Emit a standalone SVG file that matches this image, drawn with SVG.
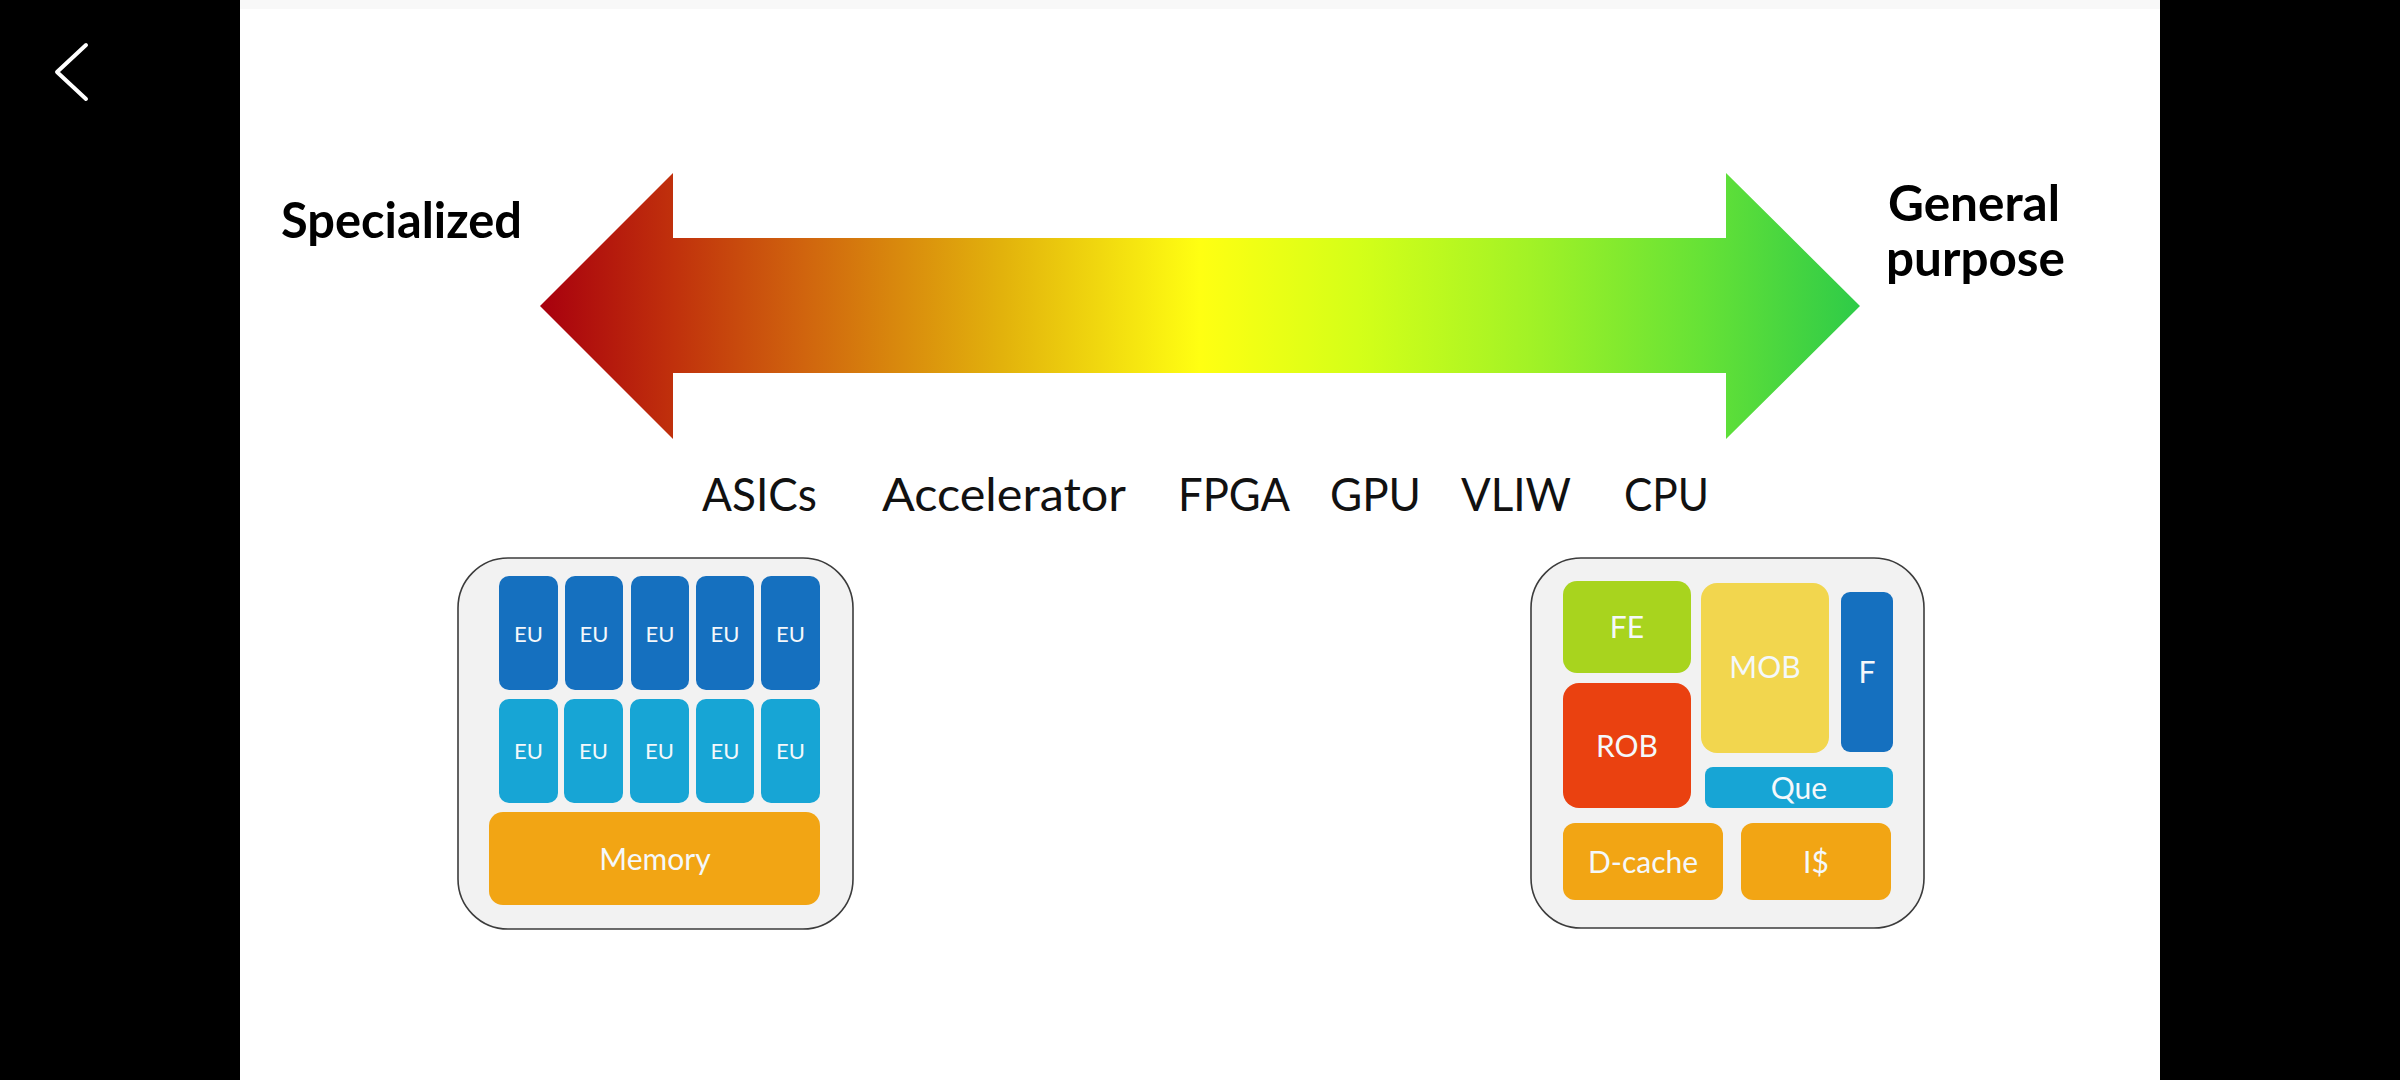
<svg xmlns="http://www.w3.org/2000/svg" width="2400" height="1080" viewBox="0 0 2400 1080">
<style>
.title{font-family:Lato,"Liberation Sans",sans-serif;font-weight:bold;font-size:50px;fill:#000}
.lbl{font-family:Lato,"Liberation Sans",sans-serif;font-size:46px;fill:#111}
.in{font-family:Lato,"Liberation Sans",sans-serif;fill:#f4f8fb;text-anchor:middle}
.eu{font-size:22px}
.big{font-size:30px}
.chip{fill:#f2f2f2;stroke:#3c3c3c;stroke-width:1.6}
.dblue{fill:#1570bf}
.lblue{fill:#17a5d5}
.orange{fill:#f2a514}
</style>
<defs>
<linearGradient id="spec" x1="540" y1="0" x2="1860" y2="0" gradientUnits="userSpaceOnUse">
<stop offset="0" stop-color="#a8000e"/>
<stop offset="0.1" stop-color="#c0300c"/>
<stop offset="0.2" stop-color="#d0640e"/>
<stop offset="0.35" stop-color="#e2b20c"/>
<stop offset="0.5" stop-color="#ffff12"/>
<stop offset="0.62" stop-color="#d4ff18"/>
<stop offset="0.75" stop-color="#a2f226"/>
<stop offset="0.88" stop-color="#66e236"/>
<stop offset="1" stop-color="#2ecb48"/>
</linearGradient>
</defs>
<rect x="0" y="0" width="2400" height="1080" fill="#ffffff"/>
<rect x="240" y="0" width="1920" height="9" fill="#f8f8f8"/>
<rect x="0" y="0" width="240" height="1080" fill="#000"/>
<rect x="2160" y="0" width="240" height="1080" fill="#000"/>
<polyline points="86,45 57,72 86,99" fill="none" stroke="#fff" stroke-width="4" stroke-linecap="round" stroke-linejoin="round"/>

<g id="connectors">
<polygon id="spectrum-arrow" fill="url(#spec)" points="540,306 673,173 673,238 1726,238 1726,173 1860,306 1726,439 1726,373 673,373 673,439"/>
</g>

<g id="specialized"><text class="title" x="281" y="238" textLength="241" lengthAdjust="spacingAndGlyphs">Specialized</text></g>
<g id="general-purpose">
<text class="title" x="1888" y="221" textLength="172" lengthAdjust="spacingAndGlyphs">General</text>
<text class="title" x="1886" y="276" textLength="179" lengthAdjust="spacingAndGlyphs">purpose</text>
</g>

<g id="asics"><text class="lbl" x="702" y="511" textLength="115" lengthAdjust="spacingAndGlyphs">ASICs</text></g>
<g id="accelerator"><text class="lbl" x="882" y="511" textLength="244" lengthAdjust="spacingAndGlyphs">Accelerator</text></g>
<g id="fpga"><text class="lbl" x="1178" y="511" textLength="112" lengthAdjust="spacingAndGlyphs">FPGA</text></g>
<g id="gpu"><text class="lbl" x="1330" y="511" textLength="91" lengthAdjust="spacingAndGlyphs">GPU</text></g>
<g id="vliw"><text class="lbl" x="1461" y="511" textLength="110" lengthAdjust="spacingAndGlyphs">VLIW</text></g>
<g id="cpu"><text class="lbl" x="1624" y="511" textLength="85" lengthAdjust="spacingAndGlyphs">CPU</text></g>

<g id="accelerator-chip">
<rect class="chip" x="458" y="558" width="395" height="371" rx="50"/>
<g id="eu-row1">
<rect class="dblue" x="499" y="576" width="59" height="114" rx="10"/>
<rect class="dblue" x="565" y="576" width="58" height="114" rx="10"/>
<rect class="dblue" x="631" y="576" width="58" height="114" rx="10"/>
<rect class="dblue" x="696" y="576" width="58" height="114" rx="10"/>
<rect class="dblue" x="761" y="576" width="59" height="114" rx="10"/>
<text class="in eu" x="528.5" y="642">EU</text>
<text class="in eu" x="594" y="642">EU</text>
<text class="in eu" x="660" y="642">EU</text>
<text class="in eu" x="725" y="642">EU</text>
<text class="in eu" x="790.5" y="642">EU</text>
</g>
<g id="eu-row2">
<rect class="lblue" x="499" y="699" width="59" height="104" rx="10"/>
<rect class="lblue" x="564" y="699" width="59" height="104" rx="10"/>
<rect class="lblue" x="630" y="699" width="59" height="104" rx="10"/>
<rect class="lblue" x="696" y="699" width="58" height="104" rx="10"/>
<rect class="lblue" x="761" y="699" width="59" height="104" rx="10"/>
<text class="in eu" x="528.5" y="759">EU</text>
<text class="in eu" x="593.5" y="759">EU</text>
<text class="in eu" x="659.5" y="759">EU</text>
<text class="in eu" x="725" y="759">EU</text>
<text class="in eu" x="790.5" y="759">EU</text>
</g>
<g id="memory">
<rect class="orange" x="489" y="812" width="331" height="93" rx="14"/>
<text class="in big" x="655" y="870" font-size="32">Memory</text>
</g>
</g>

<g id="cpu-chip">
<rect class="chip" x="1531" y="558" width="393" height="370" rx="50"/>
<g id="fe"><rect x="1563" y="581" width="128" height="92" rx="14" fill="#a8d41e"/><text class="in big" x="1627" y="638">FE</text></g>
<g id="mob"><rect x="1701" y="583" width="128" height="170" rx="16" fill="#f2d64e"/><text class="in big" x="1765" y="678">MOB</text></g>
<g id="f"><rect x="1841" y="592" width="52" height="160" rx="9" class="dblue"/><text class="in big" x="1867" y="683">F</text></g>
<g id="rob"><rect x="1563" y="683" width="128" height="125" rx="16" fill="#ea4110"/><text class="in big" x="1627" y="757">ROB</text></g>
<g id="que"><rect x="1705" y="767" width="188" height="41" rx="8" class="lblue"/><text class="in big" x="1799" y="799">Que</text></g>
<g id="dcache"><rect x="1563" y="823" width="160" height="77" rx="12" class="orange"/><text class="in big" x="1643" y="873">D-cache</text></g>
<g id="icache"><rect x="1741" y="823" width="150" height="77" rx="12" class="orange"/><text class="in big" x="1816" y="873">I$</text></g>
</g>
</svg>
